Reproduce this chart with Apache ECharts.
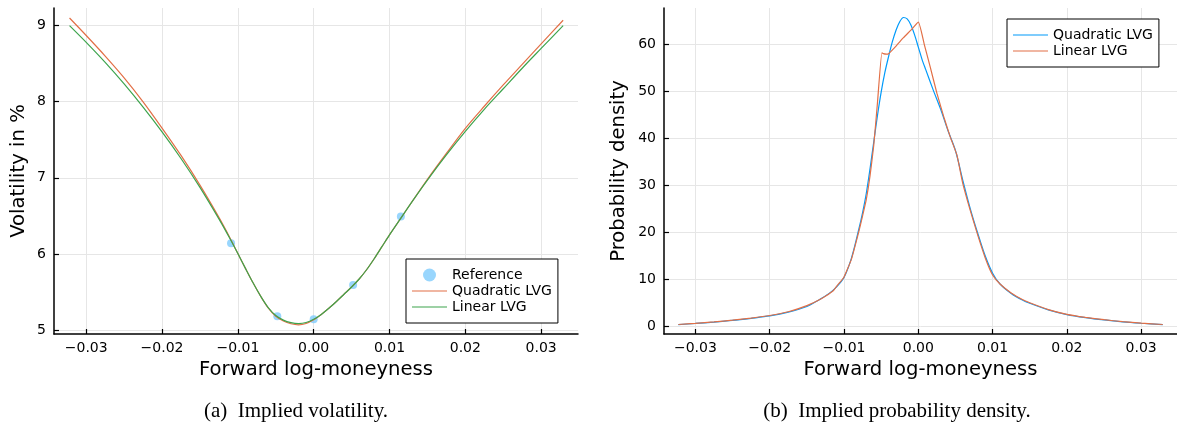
<!DOCTYPE html>
<html><head><meta charset="utf-8">
<script src="https://cdn.jsdelivr.net/npm/echarts@6/dist/echarts.min.js"></script>
<style>html,body{margin:0;padding:0;background:#fff}#c{width:1177px;height:428px}</style>
</head><body><div id="c"></div>
<script>
// ---- data ----
const xTicks = [-0.03, -0.02, -0.01, 0.00, 0.01, 0.02, 0.03];
const volTicks = [5, 6, 7, 8, 9];
const denTicks = [0, 10, 20, 30, 40, 50, 60];

const refX   = [-0.0109, -0.0048, 0.0000, 0.0052, 0.0115];
const refVol = [6.14, 5.18, 5.14, 5.59, 6.49];

const volX = [-0.0322, -0.0300, -0.0275, -0.0250, -0.0225, -0.0200, -0.0175, -0.0150, -0.0125, -0.0110,
  -0.0100, -0.0090, -0.0080, -0.0070, -0.0060, -0.0050, -0.0040, -0.0030, -0.0020, -0.0010,
  0.0000, 0.0010, 0.0020, 0.0030, 0.0040, 0.0050, 0.0060, 0.0070, 0.0080, 0.0090,
  0.0100, 0.0115, 0.0130, 0.0150, 0.0175, 0.0200, 0.0225, 0.0250, 0.0275, 0.0300, 0.0329];
const volQuadratic = [9.10, 8.87, 8.60, 8.314, 7.999, 7.654, 7.294, 6.904, 6.48, 6.203,
  6.005, 5.81, 5.62, 5.445, 5.29, 5.18, 5.118, 5.082, 5.067, 5.086,
  5.135, 5.205, 5.285, 5.375, 5.47, 5.565, 5.67, 5.795, 5.94, 6.095,
  6.25, 6.47, 6.69, 6.98, 7.32, 7.65, 7.94, 8.22, 8.49, 8.76, 9.07];
const volLinear = [9.00, 8.78, 8.517, 8.234, 7.929, 7.604, 7.254, 6.874, 6.46, 6.193,
  6.005, 5.81, 5.62, 5.445, 5.295, 5.19, 5.13, 5.097, 5.085, 5.098,
  5.14, 5.205, 5.285, 5.375, 5.47, 5.565, 5.67, 5.795, 5.94, 6.095,
  6.25, 6.47, 6.69, 6.97, 7.30, 7.61, 7.90, 8.17, 8.44, 8.70, 9.00];

const denQuadX = [-0.0323, -0.0300, -0.0275, -0.0250, -0.0225, -0.0200, -0.0175, -0.0150, -0.0135, -0.0120,
  -0.0110, -0.0100, -0.0090, -0.0080, -0.0075, -0.0070, -0.0065, -0.0060, -0.0055, -0.0050,
  -0.0045, -0.0040, -0.0035, -0.0030, -0.0025, -0.0020, -0.0015, -0.0010, -0.0005, 0.0000,
  0.0005, 0.0010, 0.0020, 0.0030, 0.0040, 0.0050, 0.0060, 0.0070, 0.0080, 0.0090,
  0.0100, 0.0110, 0.0125, 0.0140, 0.0150, 0.0175, 0.0200, 0.0225, 0.0250, 0.0275,
  0.0300, 0.0329];
const denQuad = [0.35, 0.6, 0.9, 1.25, 1.7, 2.2, 3.0, 4.2, 5.5, 7.0,
  8.4, 10.4, 14.5, 20.7, 24.2, 28.3, 33.5, 39.2, 44.8, 49.8,
  54.0, 57.4, 60.5, 63.0, 64.8, 65.7, 65.4, 64.1, 62.0, 59.4,
  56.8, 54.6, 50.3, 46.2, 41.6, 37.4, 31.0, 25.0, 19.8, 15.0,
  11.3, 9.0, 7.0, 5.6, 4.9, 3.5, 2.5, 1.85, 1.35, 0.95,
  0.65, 0.35];

const denLinX = [-0.0323, -0.0300, -0.0275, -0.0250, -0.0225, -0.0200, -0.0175, -0.0150, -0.0130, -0.0115,
  -0.0110, -0.0100, -0.0090, -0.0080, -0.0075, -0.0070, -0.0065, -0.0060, -0.0055, -0.0049,
  -0.0047, -0.0043, -0.0040, -0.0030, -0.0020, -0.0010, 0.0000, 0.0008, 0.0016, 0.0025,
  0.0035, 0.0043, 0.0052, 0.0060, 0.0070, 0.0080, 0.0090, 0.0100, 0.0110, 0.0125,
  0.0140, 0.0150, 0.0175, 0.0200, 0.0225, 0.0250, 0.0275, 0.0300, 0.0329];
const denLin = [0.38, 0.62, 0.92, 1.3, 1.75, 2.3, 3.1, 4.4, 5.9, 7.5,
  8.5, 10.5, 14.3, 20.2, 23.5, 27.0, 32.0, 38.5, 47.5, 58.2,
  58.0, 57.9, 58.0, 59.6, 61.4, 63.0, 64.7, 60.0, 55.2, 49.6,
  44.2, 40.3, 36.4, 30.3, 24.6, 19.4, 14.6, 10.9, 9.0, 7.1,
  5.7, 5.0, 3.55, 2.55, 1.9, 1.4, 0.98, 0.68, 0.38];

// ---- styling ----
const BLUE = '#009AFA', ORANGE = '#E26F46', GREEN = '#3DA44D', REFC = '#80CCFC';
const FONT = 'DejaVu Sans';
const LINE_ICON = 'path://M0,0L0,0ZM0,5.9H35V7.1H0ZM0,13L0,13Z';
const zip = (xs, ys) => xs.map((x, i) => [x, ys[i]]);
const fmtX = v => (v < -1e-9 ? '\u2212' : '') + Math.abs(v).toFixed(2);

function xAxisCfg(gi, min, max) {
  return {
    type: 'value', gridIndex: gi, min: min, max: max,
    name: 'Forward log-moneyness', nameLocation: 'middle', nameGap: 26,
    nameTextStyle: { fontFamily: FONT, fontSize: 19.6, color: '#000' },
    axisLine: { onZero: false, lineStyle: { color: '#000', width: 1.5 } },
    axisTick: { inside: true, length: 5, customValues: xTicks, lineStyle: { color: '#000', width: 1.2 } },
    axisLabel: { customValues: xTicks, margin: 7, fontFamily: FONT, fontSize: 14, color: '#000', formatter: fmtX },
    splitLine: { show: true, lineStyle: { color: '#e6e6e6', width: 1 } }
  };
}
function yAxisCfg(gi, min, max, ticks, name, gap) {
  return {
    type: 'value', gridIndex: gi, min: min, max: max,
    name: name, nameLocation: 'middle', nameGap: gap,
    nameTextStyle: { fontFamily: FONT, fontSize: 19.6, color: '#000' },
    axisLine: { show: true, onZero: false, lineStyle: { color: '#000', width: 1.5 } },
    axisTick: { show: true, inside: true, length: 5, customValues: ticks, lineStyle: { color: '#000', width: 1.2 } },
    axisLabel: { customValues: ticks, margin: 8, fontFamily: FONT, fontSize: 14, color: '#000', formatter: v => String(Math.round(v)) },
    splitLine: { show: true, lineStyle: { color: '#e6e6e6', width: 1 } }
  };
}
function lineSeries(name, xi, data, color, smooth) {
  return {
    type: 'line', name: name, xAxisIndex: xi, yAxisIndex: xi, data: data,
    symbol: 'none', showSymbol: false, smooth: smooth, z: 3,
    lineStyle: { color: color, width: 1.2 }, itemStyle: { color: color }
  };
}
function lineLegendItem(name, color) {
  return { name: name, icon: LINE_ICON, itemStyle: { color: color, opacity: 1, borderWidth: 0 } };
}
const legendBase = {
  orient: 'vertical', padding: [9, 6, 9, 6], itemWidth: 35, itemHeight: 13, itemGap: 2,
  borderColor: '#000', borderWidth: 1, borderRadius: 0, backgroundColor: '#fff',
  selectedMode: false, textStyle: { fontFamily: FONT, fontSize: 14, color: '#000' }
};

const chart = echarts.init(document.getElementById('c'), null, { renderer: 'canvas' });
chart.setOption({
  animation: false,
  textStyle: { fontFamily: FONT },
  grid: [
    { left: 54, top: 8, width: 524, height: 326, containLabel: false, outerBoundsMode: 'none' },
    { left: 664, top: 8, width: 513, height: 326, containLabel: false, outerBoundsMode: 'none' }
  ],
  xAxis: [xAxisCfg(0, -0.03425, 0.03486), xAxisCfg(1, -0.03423, 0.03482)],
  yAxis: [
    yAxisCfg(0, 4.9474, 9.2313, volTicks, 'Volatility in %', 25),
    yAxisCfg(1, -1.64, 67.72, denTicks, 'Probability density', 35)
  ],
  legend: [
    Object.assign({}, legendBase, {
      left: 406, top: 259,
      data: [
        { name: 'Reference', icon: 'circle', itemStyle: { color: REFC } },
        lineLegendItem('Quadratic LVG', ORANGE),
        lineLegendItem('Linear LVG', GREEN)
      ]
    }),
    Object.assign({}, legendBase, {
      left: 1007, top: 19,
      data: [
        lineLegendItem('Quadratic LVG', BLUE),
        lineLegendItem('Linear LVG', ORANGE)
      ]
    })
  ],
  graphic: [
    { type: 'text', x: 296, y: 411, style: { text: '(a)  Implied volatility.', fontFamily: 'Liberation Serif', fontSize: 21, fill: '#000', align: 'center', verticalAlign: 'middle' } },
    { type: 'text', x: 897, y: 411, style: { text: '(b)  Implied probability density.', fontFamily: 'Liberation Serif', fontSize: 21, fill: '#000', align: 'center', verticalAlign: 'middle' } }
  ],
  series: [
    { type: 'scatter', name: 'Reference', xAxisIndex: 0, yAxisIndex: 0, data: zip(refX, refVol),
      symbol: 'circle', symbolSize: 8, z: 2, itemStyle: { color: REFC } },
    lineSeries('Quadratic LVG', 0, zip(volX, volQuadratic), ORANGE, 0.3),
    lineSeries('Linear LVG', 0, zip(volX, volLinear), GREEN, 0.3),
    lineSeries('Quadratic LVG', 1, zip(denQuadX, denQuad), BLUE, 0.3),
    lineSeries('Linear LVG', 1, zip(denLinX, denLin), ORANGE, 0.15)
  ]
});
</script></body></html>
